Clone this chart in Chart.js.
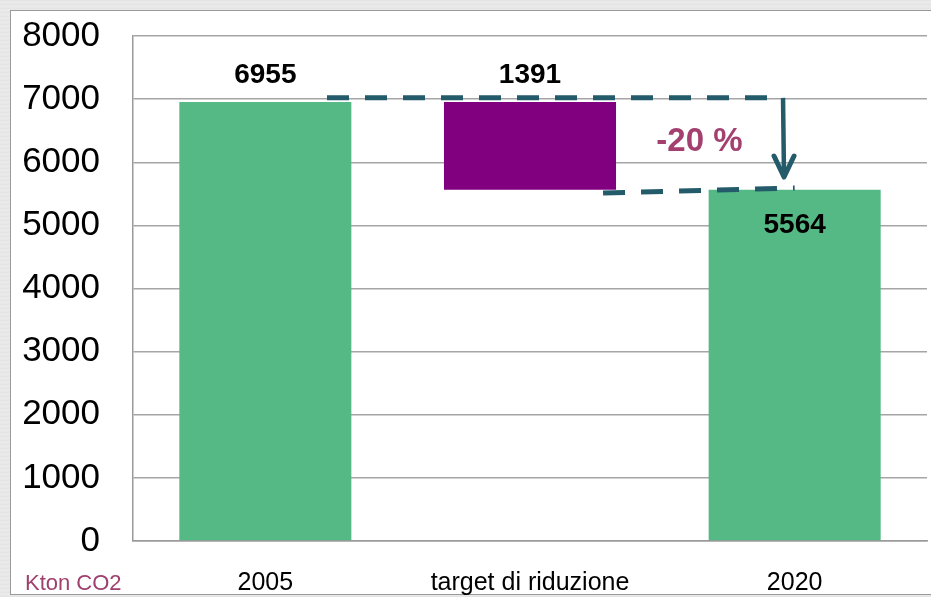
<!DOCTYPE html>
<html>
<head>
<meta charset="utf-8">
<script src="https://cdn.jsdelivr.net/npm/chart.js@4.4.1/dist/chart.umd.min.js"></script>
<style>
  html, body { margin: 0; padding: 0; }
  body {
    width: 931px; height: 597px; overflow: hidden; position: relative;
    background: repeating-linear-gradient(180deg, #e2e2e2 0px, #ececec 2px, #e6e6e6 4px);
    font-family: "Liberation Sans", Arial, sans-serif;
  }
  #panel {
    position: absolute; left: 10px; top: 10px; width: 930px; height: 585px;
    background: #fff; border: 1px solid #9a9a9a; box-sizing: border-box;
  }
  #wrap { position: absolute; left: 0; top: 0; width: 931px; height: 597px; }
  #unit {
    position: absolute; left: 25px; top: 570px; font-size: 22px; color: #a0406e;
    font-family: "Liberation Sans", Arial, sans-serif; white-space: nowrap;
  }
</style>
</head>
<body>
<div id="panel"></div>
<div id="wrap"><canvas id="c" width="931" height="597"></canvas></div>
<div id="unit">Kton CO2</div>
<script>
// ---- data ----
const categories = ["2005", "target di riduzione", "2020"];
const barBottoms = [0, 5564, 0];
const barTops = [6955, 6955, 5564];
const barColors = ["#55b985", "#800080", "#55b985"];
const yTicks = [0, 1000, 2000, 3000, 4000, 5000, 6000, 7000, 8000];
const reductionLabel = "-20 %";
const unitLabel = "Kton CO2";
// annotation guide (category index, value)
const topDashX = [0.233, 1.956];
const topDashY = [7020, 7020];
const lowDashX = [1.276, 2.0];
const lowDashY = [5513, 5592];
const arrowX = [1.956, 1.956];
const arrowY = [7020, 5766];
const reductionPos = [1.64, 6330];

document.getElementById('unit').textContent = unitLabel;

const floating = barBottoms.map((b, i) => [b, barTops[i]]);

const annotPlugin = {
  id: 'annot',
  afterDatasetsDraw(chart) {
    const ctx = chart.ctx, xs = chart.scales.x, ys = chart.scales.y;
    const px = v => xs.getPixelForValue(v), py = v => ys.getPixelForValue(v);
    ctx.save();
    ctx.fillStyle = '#000';
    ctx.font = 'bold 28px "Liberation Sans", Arial, sans-serif';
    ctx.textAlign = 'center';
    ctx.textBaseline = 'middle';
    const meta = chart.getDatasetMeta(0);
    meta.data.forEach((bar, i) => {
      const val = barTops[i] - barBottoms[i];
      const yTop = py(barTops[i]);
      const y = i === 2 ? yTop + 36 : yTop - 27;
      ctx.fillText(String(val), bar.x, y);
    });
    ctx.strokeStyle = '#245b6b';
    ctx.lineWidth = 5;
    ctx.setLineDash([22, 16]);
    ctx.beginPath();
    ctx.moveTo(px(topDashX[0]), py(topDashY[0]));
    ctx.lineTo(px(topDashX[1]), py(topDashY[1]));
    ctx.stroke();
    ctx.beginPath();
    ctx.moveTo(px(lowDashX[0]), py(lowDashY[0]));
    ctx.lineTo(px(lowDashX[1]), py(lowDashY[1]));
    ctx.stroke();
    ctx.setLineDash([]);
    ctx.lineWidth = 4.5;
    const ax = px(arrowX[0]), ay0 = py(arrowY[0]), ay1 = py(arrowY[1]);
    ctx.beginPath();
    ctx.moveTo(ax, ay0);
    ctx.lineTo(ax + 1, ay1);
    ctx.stroke();
    ctx.lineWidth = 5;
    ctx.lineCap = 'round';
    ctx.lineJoin = 'round';
    ctx.beginPath();
    ctx.moveTo(ax - 9, ay1 - 21);
    ctx.lineTo(ax + 1, ay1);
    ctx.lineTo(ax + 11, ay1 - 21);
    ctx.stroke();
    ctx.fillStyle = '#a3406f';
    ctx.font = 'bold 33px "Liberation Sans", Arial, sans-serif';
    ctx.fillText(reductionLabel, px(reductionPos[0]), py(reductionPos[1]));
    ctx.restore();
  }
};

new Chart(document.getElementById('c'), {
  type: 'bar',
  data: {
    labels: categories,
    datasets: [{
      data: floating,
      backgroundColor: barColors,
      borderWidth: 0,
      barPercentage: 0.65,
      categoryPercentage: 1.0
    }]
  },
  options: {
    responsive: false,
    animation: false,
    devicePixelRatio: 1,
    layout: { padding: { left: 20, right: 4, top: 36, bottom: 0 } },
    plugins: { legend: { display: false }, tooltip: { enabled: false }, title: { display: false } },
    scales: {
      x: {
        afterFit(scale) { scale.height = 56; },
        grid: { display: false, drawTicks: false },
        border: { display: true, color: '#9a9a9a', width: 1.5 },
        ticks: {
          color: '#000', padding: 27,
          font: { family: '"Liberation Sans", Arial, sans-serif', size: 25 }
        }
      },
      y: {
        min: 0, max: 8000,
        afterBuildTicks(scale) { scale.ticks = yTicks.map(v => ({ value: v })); },
        afterFit(scale) { scale.width = 113; scale.paddingTop = 0; scale.paddingBottom = 0; },
        grid: { color: '#a5a5a5', lineWidth: 1.5, drawTicks: false },
        border: { display: true, color: '#9a9a9a', width: 1.5 },
        ticks: {
          color: '#000', padding: 33,
          callback: v => String(v),
          font: { family: '"Liberation Sans", Arial, sans-serif', size: 35 }
        }
      }
    }
  },
  plugins: [annotPlugin]
});
</script>
</body>
</html>
